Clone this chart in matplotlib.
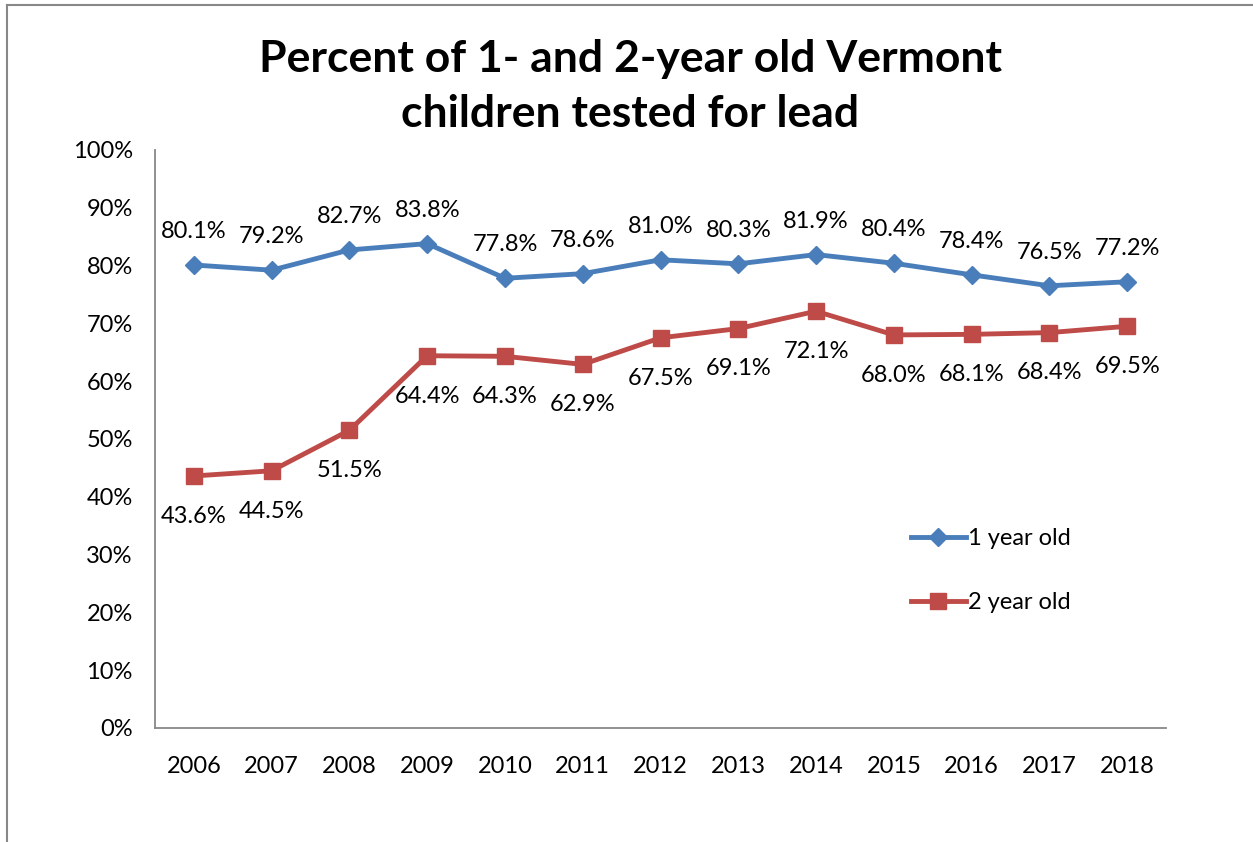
import matplotlib
matplotlib.use("Agg")
import matplotlib.pyplot as plt
from matplotlib.lines import Line2D

plt.rcParams['font.family'] = ['Lato', 'DejaVu Sans']

years = ['2006', '2007', '2008', '2009', '2010', '2011', '2012',
         '2013', '2014', '2015', '2016', '2017', '2018']
one_year = [80.1, 79.2, 82.7, 83.8, 77.8, 78.6, 81.0, 80.3, 81.9, 80.4, 78.4, 76.5, 77.2]
two_year = [43.6, 44.5, 51.5, 64.4, 64.3, 62.9, 67.5, 69.1, 72.1, 68.0, 68.1, 68.4, 69.5]
yticks = list(range(0, 101, 10))

BLUE = '#4A7EBB'
RED = '#BE4B48'

fig = plt.figure(figsize=(12.53, 8.42), dpi=100)
ax = fig.add_axes([0.1237, 0.1354, 0.8069, 0.6865])

x = list(range(len(years)))
ax.plot(x, one_year, color=BLUE, lw=3.5, marker='D', ms=9, label='1 year old')
ax.plot(x, two_year, color=RED, lw=3.5, marker='s', ms=11, label='2 year old')

for i, v in enumerate(one_year):
    ax.annotate(f'{v:.1f}%', (i, v), xytext=(0, 24), textcoords='offset points',
                ha='center', va='center', fontsize=17)
for i, v in enumerate(two_year):
    ax.annotate(f'{v:.1f}%', (i, v), xytext=(0, -29), textcoords='offset points',
                ha='center', va='center', fontsize=17)

ax.set_xlim(-0.5, len(years) - 0.5)
ax.set_ylim(0, 100)
ax.set_xticks(x)
ax.set_xticklabels(years)
ax.set_yticks(yticks)
ax.set_yticklabels([f'{t}%' for t in yticks])
ax.tick_params(length=0, labelsize=17)
ax.tick_params(axis='x', pad=20)
ax.tick_params(axis='y', pad=16)
for s in ['top', 'right']:
    ax.spines[s].set_visible(False)
for s in ['left', 'bottom']:
    ax.spines[s].set_color('#888888')
    ax.spines[s].set_linewidth(1.3)

ax.legend(loc='upper left', bbox_to_anchor=(0.727, 0.382), frameon=False,
          fontsize=17, handlelength=2.3, handletextpad=0.1, labelspacing=1.8)

fig.text(0.503, 0.897, 'Percent of 1- and 2-year old Vermont\nchildren tested for lead',
         ha='center', va='center', fontsize=32, fontweight='bold', linespacing=1.45)

# outer chart frame (only left and top edges visible in the crop)
fig.add_artist(Line2D([0.0059, 0.0059], [0, 0.9935], transform=fig.transFigure,
                      color='#888888', lw=1.5))
fig.add_artist(Line2D([0.0059, 1.0], [0.9935, 0.9935], transform=fig.transFigure,
                      color='#888888', lw=1.5))

fig.savefig('out.png', dpi=100)
